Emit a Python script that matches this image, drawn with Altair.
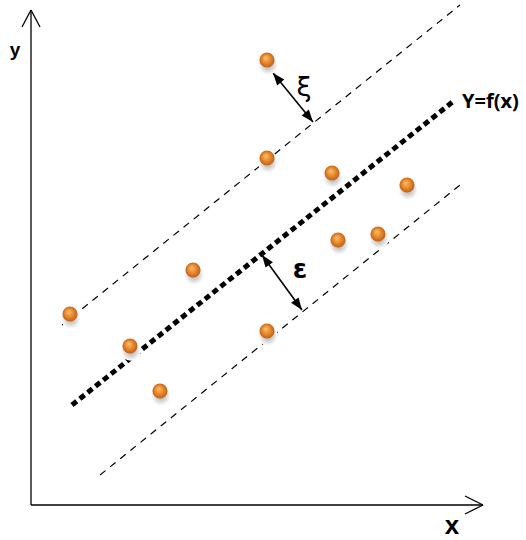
import math
import altair as alt
import pandas as pd

W, H = 526, 540

# Sample points (x, y) in diagram units
pt_x = [267, 267, 332, 407, 338, 378, 193, 70, 130, 267, 160]
pt_y = [480, 382, 367, 355, 300, 306, 270, 226, 194, 209, 149]

# Regression line f(x) and the epsilon tube around it (start/end points)
f_line = [(72, 135), (455, 440)]
tube_upper = [(62, 215), (460, 535)]
tube_lower = [(100, 65), (460, 355)]

# Coordinate axes
axis_y = [(31, 35), (31, 530)]
axis_x = [(31, 35), (483, 35)]

# Double-headed measurement arrows: slack xi and margin epsilon
arrow_xi = [(273, 467), (313, 418)]
arrow_eps = [(262, 285), (302, 230)]

labels = ["y", "x", "Y=f(x)", "ξ", "ε"]
label_x = [15, 452, 462, 304, 300]
label_y = [490, 14, 438, 452, 270]

xs = alt.Scale(domain=[0, W], nice=False, zero=False)
ys = alt.Scale(domain=[0, H], nice=False, zero=False)


def segs(pairs):
    return pd.DataFrame([{"x": a[0], "y": a[1], "x2": b[0], "y2": b[1]} for a, b in pairs])


def rule(df, **kw):
    return alt.Chart(df).mark_rule(**kw).encode(
        x=alt.X("x:Q", scale=xs, axis=None),
        y=alt.Y("y:Q", scale=ys, axis=None),
        x2="x2:Q",
        y2="y2:Q",
    )


# Open chevron heads on the axes
def chevron(tip, dx, dy, spread):
    # tip, direction of axis, and arm spread
    return [
        (tip, (tip[0] - dx + spread[0], tip[1] - dy + spread[1])),
        (tip, (tip[0] - dx - spread[0], tip[1] - dy - spread[1])),
    ]


axes = rule(segs([tuple(axis_y), tuple(axis_x)]
                 + chevron(axis_y[1], 0, 17, (9, 0))
                 + chevron(axis_x[1], 18, 0, (0, 9))),
            color="black", strokeWidth=1.3)

f_rule = rule(segs([tuple(f_line)]), color="black", strokeWidth=5, strokeDash=[6, 4])
tube = rule(segs([tuple(tube_upper), tuple(tube_lower)]), color="black",
            strokeWidth=1.2, strokeDash=[7, 6])

arrows = rule(segs([tuple(arrow_xi), tuple(arrow_eps)]), color="black", strokeWidth=1.6)


def head_rows(arrow):
    (x0, y0), (x1, y1) = arrow
    rows = []
    for (tx, ty), (fx, fy) in (((x1, y1), (x0, y0)), ((x0, y0), (x1, y1))):
        dx, dy_screen = tx - fx, -(ty - fy)
        ang = math.degrees(math.atan2(dx, -dy_screen)) % 360
        rows.append({"x": tx, "y": ty, "ang": ang})
    return rows


heads_df = pd.DataFrame(head_rows(arrow_xi) + head_rows(arrow_eps))
head_path = "M0,0 L-0.75,2 L0.75,2 Z"
heads = alt.Chart(heads_df).mark_point(
    shape=head_path, filled=True, color="black", opacity=1, size=150
).encode(
    x=alt.X("x:Q", scale=xs),
    y=alt.Y("y:Q", scale=ys),
    angle=alt.Angle("ang:Q", scale=None),
)

pts = pd.DataFrame({"x": pt_x, "y": pt_y})

shadow = alt.Chart(pts).transform_calculate(
    sx="datum.x + 1", sy="datum.y - 5"
).mark_circle(
    size=380,
    opacity=1,
    fill={
        "gradient": "radial",
        "x1": 0.5, "y1": 0.5, "r1": 0,
        "x2": 0.5, "y2": 0.5, "r2": 0.5,
        "stops": [
            {"offset": 0, "color": "#a8a8a8"},
            {"offset": 0.5, "color": "#d2d2d2"},
            {"offset": 1, "color": "#ffffff"},
        ],
    },
).encode(x=alt.X("sx:Q", scale=xs), y=alt.Y("sy:Q", scale=ys))

spheres = alt.Chart(pts).mark_circle(
    size=230,
    opacity=1,
    fill={
        "gradient": "radial",
        "x1": 0.4, "y1": 0.35, "r1": 0,
        "x2": 0.5, "y2": 0.5, "r2": 0.55,
        "stops": [
            {"offset": 0, "color": "#f9c07a"},
            {"offset": 0.45, "color": "#ec8f2c"},
            {"offset": 1, "color": "#b8581a"},
        ],
    },
).encode(x=alt.X("x:Q", scale=xs), y=alt.Y("y:Q", scale=ys))

lab = pd.DataFrame({"t": labels, "x": label_x, "y": label_y})


def text_layer(i, **kw):
    return alt.Chart(lab.iloc[[i]]).mark_text(**kw).encode(
        x=alt.X("x:Q", scale=xs), y=alt.Y("y:Q", scale=ys), text="t:N"
    )


texts = (
    text_layer(0, font="Liberation Sans", fontWeight="bold", fontSize=19, align="center", baseline="middle")
    + text_layer(1, font="Liberation Sans", fontWeight="bold", fontSize=26, align="center", baseline="middle")
    + text_layer(2, font="Open Sans", fontWeight="bold", fontSize=20, align="left", baseline="middle")
    + text_layer(3, font="DejaVu Sans", fontSize=27, align="center", baseline="middle")
    + text_layer(4, font="DejaVu Sans", fontWeight="bold", fontSize=26, align="center", baseline="middle")
)

chart = alt.layer(axes, tube, f_rule, arrows, heads, shadow, spheres, texts).properties(
    width=W, height=H, padding=0, autosize=alt.AutoSizeParams(type="none"),
    background="white",
).configure_view(stroke=None)

chart.save("out.html", embed_options={"renderer": "svg", "actions": False})
